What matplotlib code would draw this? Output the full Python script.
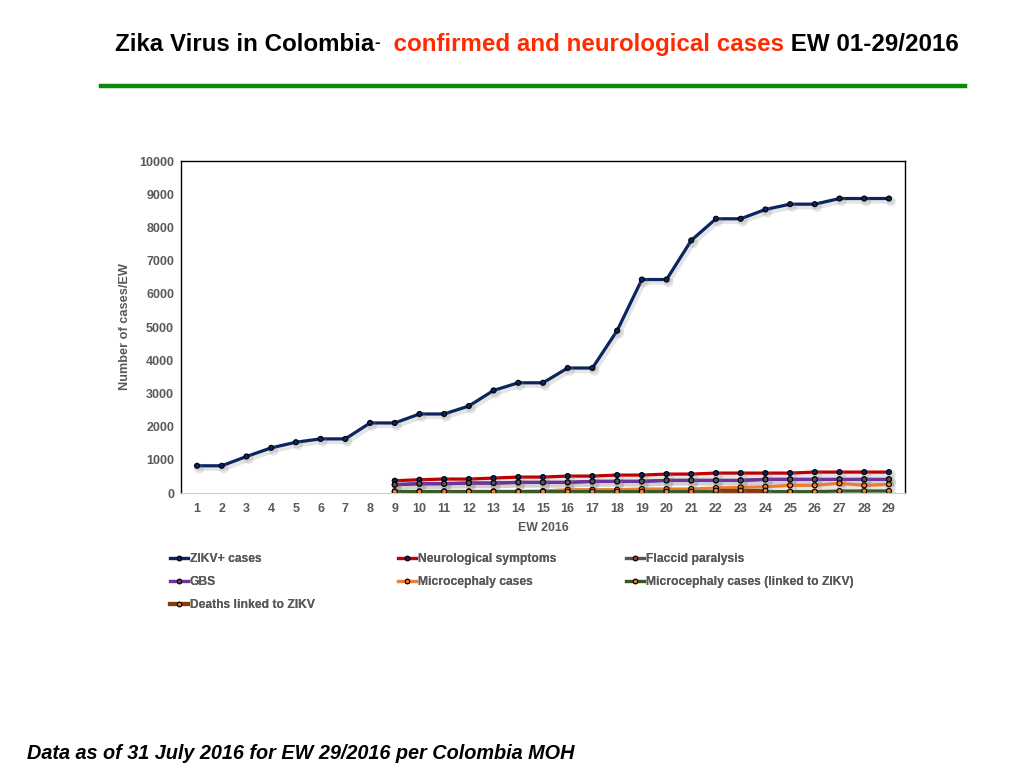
import matplotlib
matplotlib.use('Agg')
import matplotlib.pyplot as plt
import matplotlib.patheffects as pe
from matplotlib import font_manager as fm
import numpy as np

''' data read off the chart '''
weeks = list(range(1, 30))

zikv = [820, 820, 1100, 1360, 1530, 1630, 1630, 2110, 2110, 2380,
        2380, 2620, 3090, 3320, 3320, 3765, 3765, 4890, 6430, 6430,
        7610, 8260, 8260, 8540, 8700, 8700, 8870, 8870, 8870]

neuro_weeks = list(range(9, 30))
neuro = [370, 400, 420, 420, 450, 480, 480, 510, 510, 540, 540,
         570, 570, 600, 600, 600, 600, 630, 630, 630, 630]
flaccid = [250, 280, 280, 300, 300, 320, 320, 320, 350, 350, 350,
           380, 380, 380, 380, 410, 410, 410, 410, 410, 410]
gbs = [250, 280, 280, 300, 300, 320, 320, 320, 350, 350, 350,
       380, 380, 380, 380, 410, 410, 410, 410, 410, 410]
micro = [50, 50, 50, 50, 50, 50, 60, 100, 100, 100, 120,
         120, 120, 150, 170, 190, 230, 230, 290, 230, 260]
micro_zikv = [40, 40, 40, 40, 40, 40, 40, 40, 40, 40, 40,
              40, 40, 40, 40, 40, 40, 40, 60, 60, 60]

deaths_weeks = [22, 23, 24]
deaths = [70, 70, 70]

labels = ['ZIKV+ cases', 'Neurological symptoms', 'Flaccid paralysis',
          'GBS', 'Microcephaly cases', 'Microcephaly cases (linked to ZIKV)',
          'Deaths linked to ZIKV']

GREY = '#595959'

def pick(names):
    have = set(f.name for f in fm.fontManager.ttflist)
    for n in names:
        if n in have:
            return n
    return 'DejaVu Sans'

sFont = pick(['Liberation Sans', 'Arial', 'DejaVu Sans'])
sNarrow = pick(['Liberation Sans Narrow', 'Liberation Sans'])

plt.rcParams['font.family'] = sFont

fig = plt.figure(figsize=(10.24, 7.68), dpi=100)
ax = fig.add_axes([181/1024, 1-493/768, (905-181)/1024, (493-161)/768])

shadow = [pe.SimpleLineShadow(offset=(1.5, -2), shadow_color='grey', alpha=0.2, linewidth=3.5),
          pe.Normal()]

def draw(x, y, color, mfc, label, lw=2.3):
    l, = ax.plot(x, y, '-', color=color, lw=lw, marker='o', ms=3.6,
                 mfc=mfc, mec='black', mew=0.8, label=label,
                 path_effects=shadow, solid_joinstyle='round')
    return l

lines = []
lines.append(draw(weeks, zikv, '#0b2561', '#0b2561', labels[0]))
lines.append(draw(neuro_weeks, neuro, '#c00000', '#0b2561', labels[1]))
lines.append(draw(neuro_weeks, flaccid, '#555555', '#c0392b', labels[2]))
lines.append(draw(neuro_weeks, gbs, '#7030a0', '#555555', labels[3]))
lines.append(draw(neuro_weeks, micro, '#ed7d31', '#ed7d31', labels[4]))
lines.append(draw(neuro_weeks, micro_zikv, '#375623', '#ed7d31', labels[5]))
lines.append(draw(deaths_weeks, deaths, '#843c0c', '#ed7d31', labels[6], lw=3.0))

ax.set_xlim(0.35, 29.65)
ax.set_ylim(0, 10000)
ax.set_xticks(weeks)
ax.set_yticks(range(0, 10001, 1000))
ax.tick_params(axis='y', length=0, labelsize=9, labelcolor=GREY, pad=5)
ax.tick_params(axis='x', length=0, labelsize=9, labelcolor=GREY, pad=7)
for t in ax.get_xticklabels() + ax.get_yticklabels():
    t.set_fontweight('bold')
ax.set_xlabel('EW 2016', fontsize=8.8, fontweight='bold', color=GREY, labelpad=5)
ax.set_ylabel('Number of cases/EW', fontsize=9.2, fontweight='bold', color=GREY, labelpad=6)
for s in ['top', 'right', 'left']:
    ax.spines[s].set_color('black')
    ax.spines[s].set_linewidth(1)
ax.spines['bottom'].set_color('#cccccc')

''' legend, three columns laid out row by row '''
cols = [[0, 3, 6], [1, 4], [2, 5]]
xcol = [170, 398, 626]
for i, idx in enumerate(cols):
    leg = fig.legend([lines[k] for k in idx], [labels[k] for k in idx],
                     loc='upper left', bbox_to_anchor=(xcol[i]/1024, 1-553/768),
                     frameon=False, fontsize=8.7, handlelength=1.5, handletextpad=0.15,
                     labelspacing=0.93, borderaxespad=0, borderpad=0)
    for t in leg.get_texts():
        t.set_color(GREY)
        t.set_fontweight('bold')
    for h in leg.legend_handles:
        h.set_path_effects([])
        h.set_markersize(3.2)
    fig.add_artist(leg)

''' title, built piece by piece '''
fig.canvas.draw()
rend = fig.canvas.get_renderer()
parts = [('Zika Virus in Colombia', 'black', 0),
         ('-', 'black', 4),
         ('  confirmed and neurological cases', '#ff2a00', 0),
         (' EW 01-29/2016', 'black', 0)]
x = 115
for txt, col, dy in parts:
    sz = 12 if txt == '-' else 17.4
    t = fig.text(x/1024, 1-(51-dy)/768, txt, color=col, fontsize=sz,
                 fontweight='bold', family=sNarrow, ha='left', va='baseline')
    bb = t.get_window_extent(rend)
    x = x + bb.width

fig.add_artist(plt.Line2D([101/1024, 965/1024], [1-86/768, 1-86/768],
                          color='#0a8a0a', lw=3.2))

fig.text(27/1024, 1-759/768, 'Data as of 31 July 2016 for EW 29/2016 per Colombia MOH',
         fontsize=14.3, fontweight='bold', style='italic', ha='left', va='baseline')

fig.savefig('out.png', dpi=100)
